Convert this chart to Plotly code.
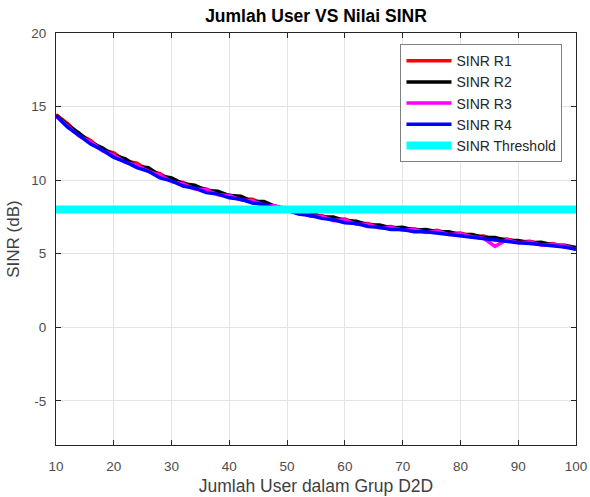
import plotly.graph_objects as go

users = list(range(10, 101, 2))

sinr_r1 = [14.45,13.85,13.10,12.70,12.05,11.85,11.30,11.15,10.65,10.45,9.95,9.85,9.50,9.40,9.05,9.00,8.70,8.70,8.35,8.25,7.95,7.95,7.60,7.60,7.30,7.35,7.05,7.05,6.80,6.85,6.65,6.70,6.50,6.60,6.35,6.40,6.15,6.20,5.95,6.00,5.80,5.85,5.65,5.70,5.45,5.40]
sinr_r2 = [14.40,13.75,13.20,12.55,12.20,11.70,11.45,10.95,10.85,10.30,10.15,9.75,9.65,9.30,9.25,8.95,8.90,8.55,8.55,8.20,8.10,7.85,7.80,7.50,7.50,7.25,7.20,6.95,6.95,6.75,6.80,6.60,6.65,6.50,6.50,6.30,6.30,6.10,6.10,5.90,5.90,5.75,5.78,5.60,5.58,5.42]
sinr_r3 = [14.35,13.65,13.00,12.60,12.00,11.70,11.20,11.00,10.60,10.35,9.90,9.75,9.40,9.35,9.00,8.95,8.65,8.60,8.30,8.25,7.90,7.90,7.55,7.55,7.25,7.30,7.00,7.00,6.75,6.80,6.60,6.65,6.45,6.55,6.30,6.35,6.15,6.05,5.50,5.95,5.75,5.80,5.60,5.65,5.55,5.30]
sinr_r4 = [14.40,13.60,13.05,12.45,12.05,11.55,11.25,10.85,10.60,10.15,9.95,9.60,9.45,9.15,9.05,8.80,8.70,8.45,8.35,8.10,7.95,7.70,7.60,7.40,7.30,7.10,7.05,6.85,6.80,6.65,6.65,6.50,6.50,6.40,6.35,6.25,6.15,6.05,5.95,5.85,5.75,5.70,5.62,5.55,5.45,5.30]

threshold_x = [10, 100]
threshold_y = [8, 8]

x_ticks = [10, 20, 30, 40, 50, 60, 70, 80, 90, 100]
y_ticks = [-5, 0, 5, 10, 15, 20]
y_tick_labels = ["-5", "0", "5", "10", "15", "20"]

series = [
    ("SINR R1", sinr_r1, "#FF0000"),
    ("SINR R2", sinr_r2, "#000000"),
    ("SINR R3", sinr_r3, "#FF00FF"),
    ("SINR R4", sinr_r4, "#0000FF"),
]

fig = go.Figure()
for name, vals, col in series:
    fig.add_trace(go.Scatter(x=users, y=vals, mode="lines", name=name,
                             line=dict(color=col, width=3.5)))
fig.add_trace(go.Scatter(x=threshold_x, y=threshold_y, mode="lines", name="SINR Threshold",
                         line=dict(color="#00FFFF", width=8)))

font_family = "Liberation Sans, Arial, sans-serif"
axis_common = dict(
    showline=True, linecolor="#262626", linewidth=1, mirror="allticks",
    ticks="inside", ticklen=5, tickcolor="#262626",
    showgrid=True, gridcolor="#E3E3E3", gridwidth=1, zeroline=False,
    automargin=False, ticklabeloverflow="allow",
    tickfont=dict(family=font_family, size=13.5, color="#4D4D4D"),
)

fig.update_layout(
    width=590, height=497,
    margin=dict(l=56, r=14, t=33, b=52, autoexpand=False),
    paper_bgcolor="white", plot_bgcolor="white",
    font=dict(family=font_family, color="#262626"),
    title=dict(text="<b>Jumlah User VS Nilai SINR</b>", x=0.5, xref="paper",
               y=1 - 16 / 497, yref="container", yanchor="middle",
               font=dict(family=font_family, size=17.5, color="#000000"),
               automargin=False),
    xaxis=dict(range=[10, 100], tickvals=x_ticks,
               ticklabelstandoff=9,
               title=dict(text="Jumlah User dalam Grup D2D", standoff=6,
                          font=dict(family=font_family, size=17.5, color="#404040")),
               **axis_common),
    yaxis=dict(range=[-8, 20], tickvals=y_ticks, ticktext=y_tick_labels,
               ticklabelstandoff=6,
               title=dict(text="SINR (dB)", standoff=7,
                          font=dict(family=font_family, size=17, color="#404040")),
               **axis_common),
    legend=dict(x=0.974, y=0.973, xanchor="right", yanchor="top",
                bgcolor="white", bordercolor="#808080", borderwidth=1,
                font=dict(family=font_family, size=14, color="#262626"),
                tracegroupgap=0, itemwidth=45),
    showlegend=True,
)

fig.write_html("out.html")
